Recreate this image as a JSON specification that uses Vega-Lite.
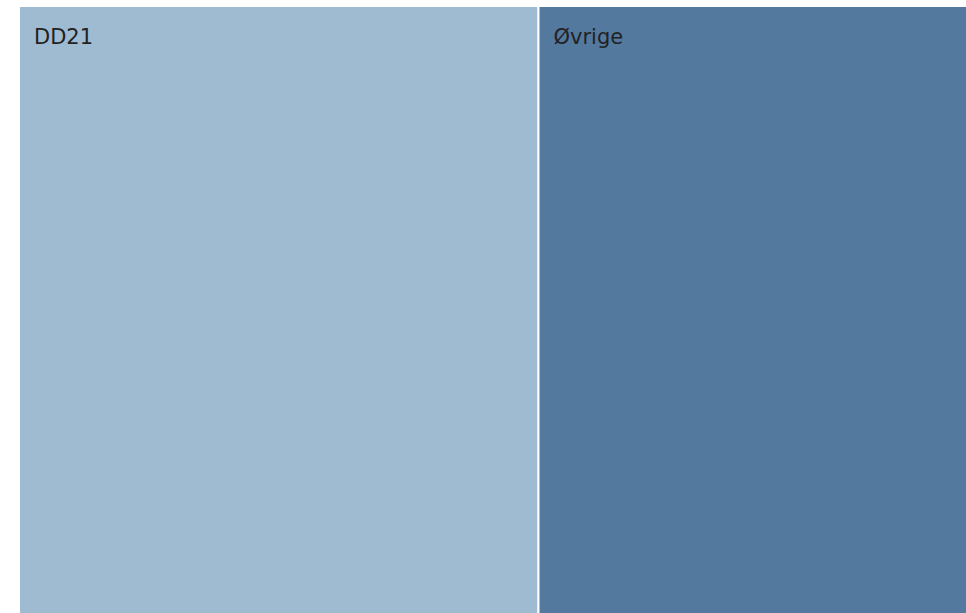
{
  "$schema": "https://vega.github.io/schema/vega-lite/v6.json",
  "width": 948,
  "height": 608,
  "autosize": "none",
  "padding": {"left": 19, "top": 6, "right": 0, "bottom": 0},
  "background": "white",
  "view": {"stroke": null},
  "data": {"values": [
    {"name": "DD21", "value": 548, "order": 1},
    {"name": "Øvrige", "value": 452, "order": 2}
  ]},
  "transform": [
    {"stack": "value", "groupby": [], "sort": [{"field": "order", "order": "ascending"}], "as": ["x0", "x1"]}
  ],
  "layer": [
    {
      "mark": {"type": "rect", "stroke": "white", "strokeWidth": 2},
      "encoding": {
        "x": {"field": "x0", "type": "quantitative", "scale": {"domain": [0, 1000], "nice": false, "zero": false}, "axis": null},
        "x2": {"field": "x1"},
        "y": {"datum": 0, "type": "quantitative", "scale": {"domain": [0, 1], "nice": false}, "axis": null},
        "y2": {"datum": 1},
        "color": {"field": "name", "type": "nominal", "scale": {"domain": ["DD21", "Øvrige"], "range": ["#9ebbd2", "#53799f"]}, "legend": null}
      }
    },
    {
      "mark": {"type": "text", "align": "left", "baseline": "alphabetic", "dx": 15, "dy": 38, "font": "DejaVu Sans", "fontSize": 21, "color": "#222222"},
      "encoding": {
        "x": {"field": "x0", "type": "quantitative"},
        "y": {"datum": 1, "type": "quantitative"},
        "text": {"field": "name"}
      }
    }
  ]
}
